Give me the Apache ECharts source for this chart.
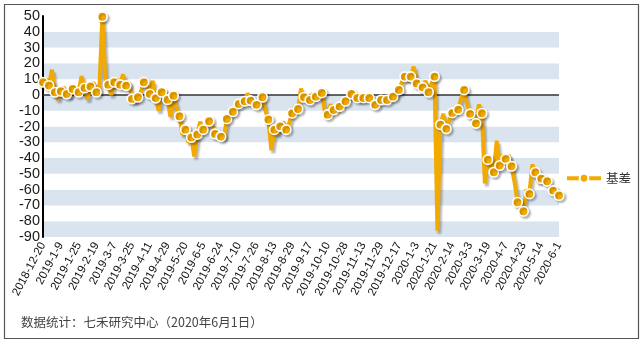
<!DOCTYPE html>
<html><head><meta charset="utf-8">
<script src="https://cdn.jsdelivr.net/npm/echarts@6/dist/echarts.min.js"></script>
<style>html,body{margin:0;padding:0;background:#fff}#c{width:640px;height:339px}</style>
</head><body><div id="c"></div>
<script>
const tickLabels = ['2018-12-20','2019-1-9','2019-1-25','2019-2-19','2019-3-7','2019-3-25','2019-4-11','2019-4-29','2019-5-20','2019-6-5','2019-6-24','2019-7-10','2019-7-26','2019-8-13','2019-8-29','2019-9-17','2019-10-10','2019-10-28','2019-11-13','2019-11-29','2019-12-17','2020-1-3','2020-1-21','2020-2-14','2020-3-3','2020-3-19','2020-4-7','2020-4-23','2020-5-14','2020-6-1'];
const stepsPerTick = 6;
const seriesName = '基差';
const basis = [
  8, 10, 6, 16, 1.7, -3,
  2.3, 5, 0.6, -1, 3.8, 5,
  1.7, 12, 4.4, -3, 5.3, 8,
  1.7, 3, 49.5, 10, 6.5, 0,
  8, 10, 6.5, 13, 5.9, 8,
  -2.5, -4, -1.5, 2, 8, 6,
  0.6, 9, -2, -10, 1.7, 3,
  -3, -14, -0.5, -8, -13.5, -25,
  -22, -30, -27, -39, -25, -17,
  -22, -20, -16.7, -19, -24.7, -25,
  -26.4, -27, -15.2, -13, -10.7, -8,
  -5.7, -3, -4, 1, -3.6, -5,
  -6.3, -4, -1.5, -10, -15.6, -35,
  -22, -25, -19.9, -17, -22, -18,
  -11.6, -7, -8.9, 4, -1.5, -4,
  -3.2, 1, -1.1, 0, 1.3, -10,
  -12.5, -6, -9.5, -8, -7.4, -3,
  -4, -1, 0.6, 1, -1.9, -3,
  -1.9, 0, -1.9, -4, -6.3, -4,
  -3.2, -1, -3.2, -1, -1.1, 0,
  3.2, 8, 11.6, 10, 11.6, 18,
  7.3, 8, 4.8, 9, 1.7, 7,
  11.6, -86, -18.8, -12, -21.5, -16,
  -11.4, -8, -9.3, -2, 3.2, -6,
  -12, -16, -18, -6, -11.6, -56,
  -41, -43, -49, -29, -44.7, -38,
  -40.5, -38, -45.2, -55, -68, -70,
  -73.7, -60, -62.7, -44, -49, -55,
  -53, -52, -54.7, -57, -60.6, -60,
  -63.7
];
const footnote = '数据统计：七禾研究中心（2020年6月1日）';

// category names: tick label at each tick, hidden intermediate trading days
const categories = [];
for (let j = 0; j < tickLabels.length; j++) {
  categories.push(tickLabels[j]);
  if (j < tickLabels.length - 1) {
    for (let s = 1; s < stepsPerTick; s++) categories.push(tickLabels[j] + '#' + s);
  }
}

const chart = echarts.init(document.getElementById('c'), null, {renderer: 'canvas'});
chart.setOption({
  animation: false,
  backgroundColor: '#fff',
  textStyle: {fontFamily: 'Liberation Sans, Arial, sans-serif'},
  grid: {left: 43, right: 81, top: 16, bottom: 102, containLabel: false},
  legend: {
    data: [seriesName], orient: 'vertical', right: 4, top: 167,
    itemWidth: 34, itemHeight: 11, itemGap: 8,
    lineStyle: {width: 4, color: '#F2A900'},
    textStyle: {fontSize: 12.5, color: '#333', fontFamily: 'Noto Sans CJK SC'}
  },
  xAxis: {
    type: 'category', data: categories, boundaryGap: false,
    axisLine: {show: false}, axisTick: {show: false},
    axisLabel: {interval: stepsPerTick - 1, rotate: 62, fontSize: 11.5, color: '#111', margin: 6}
  },
  yAxis: {
    type: 'value', min: -90, max: 50, interval: 10,
    axisLine: {show: true, lineStyle: {color: '#000', width: 2}},
    axisTick: {show: false},
    axisLabel: {fontSize: 14.5, color: '#1a1a1a', margin: 3},
    splitLine: {show: false},
    splitArea: {show: true, areaStyle: {color: ['#DAE4EF', '#FFFFFF']}}
  },
  series: [{
    name: seriesName, type: 'line', data: basis,
    showAllSymbol: true, symbol: 'circle',
    symbolSize: (v, p) => (p.dataIndex % 2 === 0 ? 9.5 : 0),
    lineStyle: {color: '#F2A900', width: 4, shadowColor: 'rgba(0,0,0,0.28)', shadowOffsetX: 2, shadowOffsetY: 3, shadowBlur: 2},
    itemStyle: {color: '#F2A900', borderColor: '#fff', borderWidth: 1.6, shadowColor: 'rgba(0,0,0,0.25)', shadowOffsetX: 2, shadowOffsetY: 2, shadowBlur: 2},
    markLine: {
      silent: true, symbol: 'none', label: {show: false}, z: 1,
      lineStyle: {color: '#333', width: 1.5, type: 'solid'},
      data: [{yAxis: 0}]
    },
    z: 3
  }],
  graphic: [
    {type: 'rect', left: 2, top: 2, shape: {width: 634, height: 334}, style: {fill: 'none', stroke: '#555', lineWidth: 1.2}, silent: true},
    {type: 'text', left: 21, top: 316, style: {text: footnote, fontSize: 12.5, fill: '#444', fontFamily: 'Noto Sans CJK SC'}}
  ]
});
</script></body></html>
